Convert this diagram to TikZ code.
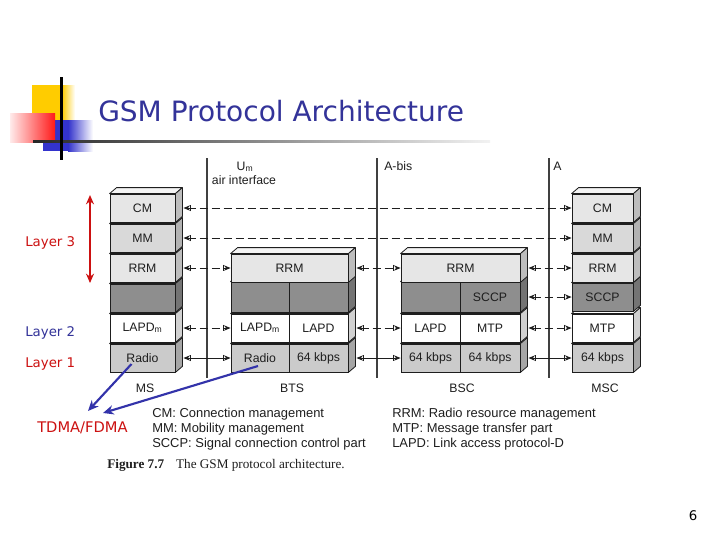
\documentclass[tikz,border=0pt]{standalone}
\usepackage{fontspec}
\setmainfont{Liberation Sans}
\newfontfamily\tahoma{DejaVu Sans}
\newfontfamily\capfont{Liberation Serif}
\usetikzlibrary{arrows.meta}
\definecolor{titleblue}{HTML}{333399}
\definecolor{layred}{HTML}{CC1111}
\definecolor{ink}{HTML}{1E1E1E}
\definecolor{lite}{HTML}{E6E6E6}
\definecolor{litetwo}{HTML}{D9D9D9}
\definecolor{mid}{HTML}{CBCBCB}
\definecolor{dark}{HTML}{8E8E8E}
\definecolor{arrowblue}{HTML}{3333AA}
\definecolor{yel}{HTML}{FFCC00}
\definecolor{sqblue}{HTML}{3333CC}
\newcommand{\threed}[3]{%
  \filldraw[boxface, fill=#3!45!white] (#1.north west) -- ++(7,-6) -- ([shift={(7,-6)}]#2.north east) -- (#2.north east) -- cycle;
  \filldraw[boxface, fill=#3!82!black] (#2.north east) -- ++(7,-6) -- ([shift={(7,-6)}]#2.south east) -- (#2.south east) -- cycle;}
\begin{document}
\begin{tikzpicture}[x=0.75pt,y=-0.75pt,
  box/.style={draw=ink,line width=0.6pt,inner sep=0pt,minimum height=21pt,
    font=\fontsize{9.2}{10}\selectfont,text=ink},
  boxface/.style={draw=ink,line width=0.6pt,line join=round},
  bothtips/.style={{Stealth[length=5pt,width=4pt,sep=0pt] Bar[width=5pt,sep=0pt]}-{Bar[width=5pt,sep=0pt] Stealth[length=5pt,width=4pt,sep=0pt]}},
  conn/.style={ink,line width=0.75pt,dash pattern=on 6pt off 3pt,bothtips},
  connsolid/.style={ink,line width=0.75pt,bothtips},
  iface/.style={draw=ink!85,line width=2.2pt},
  lbl/.style={font=\fontsize{9.2}{10}\selectfont,text=ink,inner sep=0pt},
  legend/.style={font=\fontsize{9.7}{11}\selectfont,text=ink,anchor=base west,inner sep=0pt},
  layer/.style={font=\tahoma\fontsize{10}{12}\selectfont,anchor=base west,inner sep=0pt},
  bluearrow/.style={arrowblue,line width=1.6pt,-{Stealth[length=8pt,width=7pt]}},
  redarrow/.style={layred,line width=1.6pt,{Stealth[length=7pt,width=6pt]}-{Stealth[length=7pt,width=6pt]}}]
\useasboundingbox (0,0) rectangle (720,540);
\fill[white] (0,0) rectangle (720,540);
% title decoration
\fill[yel] (32,85) rectangle (62,120);
\shade[left color=yel,right color=white] (62,85) rectangle (75,120);
\fill[sqblue] (43,120) rectangle (68,151);
\shade[left color=sqblue,right color=white] (68,120) rectangle (93,151);
\shade[left color=red!8,right color=red!90] (10,113) rectangle (55,142);
\shade[left color=black!85,right color=black!5] (33,140) rectangle (490,142.5);
\fill[black] (60,77) rectangle (62.5,160);
\node[font=\tahoma\fontsize{21}{24}\selectfont,text=titleblue,anchor=base west,inner sep=0pt] (title) at (98,121) {GSM Protocol Architecture};
% interfaces
\draw[iface] (207,158) -- (207,378);
\draw[iface] (377,158) -- (377,378);
\draw[iface] (549,158) -- (549,378);
\node[lbl,anchor=base] (um) at (245,170) {U\textsubscript{m}};
\node[lbl,anchor=base] (air) at (244,184) {air interface};
\node[lbl,anchor=base west] (abis) at (384,170) {A-bis};
\node[lbl,anchor=base west] (aif) at (553,170) {A};
% MS stack
\node[box,fill=mid,minimum width=48.75pt] (ms-radio) at (142.5,358) {Radio};
\threed{ms-radio}{ms-radio}{mid}
\node[box,fill=white,minimum width=48.75pt] (ms-lapdm) at (142.5,328) {LAPD\textsubscript{m}};
\threed{ms-lapdm}{ms-lapdm}{white}
\node[box,fill=dark,minimum width=48.75pt] (ms-grey) at (142.5,298) {};
\threed{ms-grey}{ms-grey}{dark}
\node[box,fill=lite,minimum width=48.75pt] (ms-rrm) at (142.5,268) {RRM};
\threed{ms-rrm}{ms-rrm}{lite}
\node[box,fill=litetwo,minimum width=48.75pt] (ms-mm) at (142.5,238) {MM};
\threed{ms-mm}{ms-mm}{litetwo}
\node[box,fill=lite,minimum width=48.75pt] (ms-cm) at (142.5,208) {CM};
\threed{ms-cm}{ms-cm}{lite}
% BTS stack
\node[box,fill=mid,minimum width=43.5pt] (bts-radio) at (260,358) {Radio};
\node[box,fill=mid,minimum width=44.25pt] (bts-64) at (318.5,358) {64 kbps};
\threed{bts-radio}{bts-64}{mid}
\node[box,fill=white,minimum width=43.5pt] (bts-lapdm) at (260,328) {LAPD\textsubscript{m}};
\node[box,fill=white,minimum width=44.25pt] (bts-lapd) at (318.5,328) {LAPD};
\threed{bts-lapdm}{bts-lapd}{white}
\node[box,fill=dark,minimum width=43.5pt,minimum height=22.5pt] (bts-g1) at (260,297) {};
\node[box,fill=dark,minimum width=44.25pt,minimum height=22.5pt] (bts-g2) at (318.5,297) {};
\threed{bts-g1}{bts-g2}{dark}
\node[box,fill=lite,minimum width=87.75pt] (bts-rrm) at (289.5,268) {RRM};
\threed{bts-rrm}{bts-rrm}{lite}
% BSC stack
\node[box,fill=mid,minimum width=44.25pt] (bsc-64a) at (430.5,358) {64 kbps};
\node[box,fill=mid,minimum width=45pt] (bsc-64b) at (490,358) {64 kbps};
\threed{bsc-64a}{bsc-64b}{mid}
\node[box,fill=white,minimum width=44.25pt] (bsc-lapd) at (430.5,328) {LAPD};
\node[box,fill=white,minimum width=45pt] (bsc-mtp) at (490,328) {MTP};
\threed{bsc-lapd}{bsc-mtp}{white}
\node[box,fill=dark,minimum width=44.25pt,minimum height=22.5pt] (bsc-g1) at (430.5,297) {};
\node[box,fill=dark,minimum width=45pt,minimum height=22.5pt] (bsc-sccp) at (490,297) {SCCP};
\threed{bsc-g1}{bsc-sccp}{dark}
\node[box,fill=lite,minimum width=89.25pt] (bsc-rrm) at (460.5,268) {RRM};
\threed{bsc-rrm}{bsc-rrm}{lite}
% MSC stack
\node[box,fill=mid,minimum width=45.75pt] (msc-64) at (602.5,358) {64 kbps};
\threed{msc-64}{msc-64}{mid}
\node[box,fill=white,minimum width=45.75pt] (msc-mtp) at (602.5,328) {MTP};
\threed{msc-mtp}{msc-mtp}{white}
\node[box,fill=dark,minimum width=45.75pt] (msc-sccp) at (602.5,297) {SCCP};
\threed{msc-sccp}{msc-sccp}{dark}
\node[box,fill=lite,minimum width=45.75pt] (msc-rrm) at (602.5,268) {RRM};
\threed{msc-rrm}{msc-rrm}{lite}
\node[box,fill=litetwo,minimum width=45.75pt] (msc-mm) at (602.5,238) {MM};
\threed{msc-mm}{msc-mm}{litetwo}
\node[box,fill=lite,minimum width=45.75pt] (msc-cm) at (602.5,208) {CM};
\threed{msc-cm}{msc-cm}{lite}
% connectors
\draw[conn] ([xshift=6pt]ms-cm.east) -- (msc-cm.west);
\draw[conn] ([xshift=6pt]ms-mm.east) -- (msc-mm.west);
\draw[conn] ([xshift=6pt]ms-rrm.east) -- (bts-rrm.west);
\draw[conn] ([xshift=6pt]bts-rrm.east) -- (bsc-rrm.west);
\draw[conn] ([xshift=6pt]bsc-rrm.east) -- (msc-rrm.west);
\draw[conn] ([xshift=6pt]bsc-sccp.east) -- (msc-sccp.west);
\draw[conn] ([xshift=6pt]ms-lapdm.east) -- (bts-lapdm.west);
\draw[conn] ([xshift=6pt]bts-lapd.east) -- (bsc-lapd.west);
\draw[conn] ([xshift=6pt]bsc-mtp.east) -- (msc-mtp.west);
\draw[connsolid] ([xshift=6pt]ms-radio.east) -- (bts-radio.west);
\draw[connsolid] ([xshift=6pt]bts-64.east) -- (bsc-64a.west);
\draw[connsolid] ([xshift=6pt]bsc-64b.east) -- (msc-64.west);
% station names
\node[lbl,anchor=base] (ms) at (145,392) {MS};
\node[lbl,anchor=base] (bts) at (292,392) {BTS};
\node[lbl,anchor=base] (bsc) at (462,392) {BSC};
\node[lbl,anchor=base] (msc) at (605,392) {MSC};
% layers
\node[layer,text=layred] (l3) at (25,246) {Layer 3};
\node[layer,text=titleblue] (l2) at (25,336) {Layer 2};
\node[layer,text=layred] (l1) at (25,367) {Layer 1};
\coordinate (l3top) at (90,195);
\coordinate (l3bot) at (90,283);
\draw[redarrow] (l3top) -- (l3bot);
\node[layer,text=layred,font=\tahoma\fontsize{11}{12}\selectfont] (tdma) at (37,432) {TDMA/FDMA};
\coordinate (t1) at (88,411);
\coordinate (t2) at (103,413);
\draw[bluearrow] ([shift={(-11,6)}]ms-radio.center) -- (t1);
\draw[bluearrow] ([shift={(-2,8)}]bts-radio.center) -- (t2);
% legend
\node[legend] (lg1) at (152,417) {CM: Connection management};
\node[legend] (lg2) at (152,432) {MM: Mobility management};
\node[legend] (lg3) at (152,447) {SCCP: Signal connection control part};
\node[legend] (lg4) at (392,417) {RRM: Radio resource management};
\node[legend] (lg5) at (392,432) {MTP: Message transfer part};
\node[legend] (lg6) at (392,447) {LAPD: Link access protocol-D};
\node[anchor=base west,inner sep=0pt,font=\capfont\fontsize{9.9}{11}\selectfont,text=ink] (cap) at (107,468) {\textbf{Figure 7.7}\hspace{0.9em}The GSM protocol architecture.};
\node[anchor=base,inner sep=0pt,font=\tahoma\fontsize{10}{12}\selectfont] (pg) at (693,520) {6};
\end{tikzpicture}
\end{document}
